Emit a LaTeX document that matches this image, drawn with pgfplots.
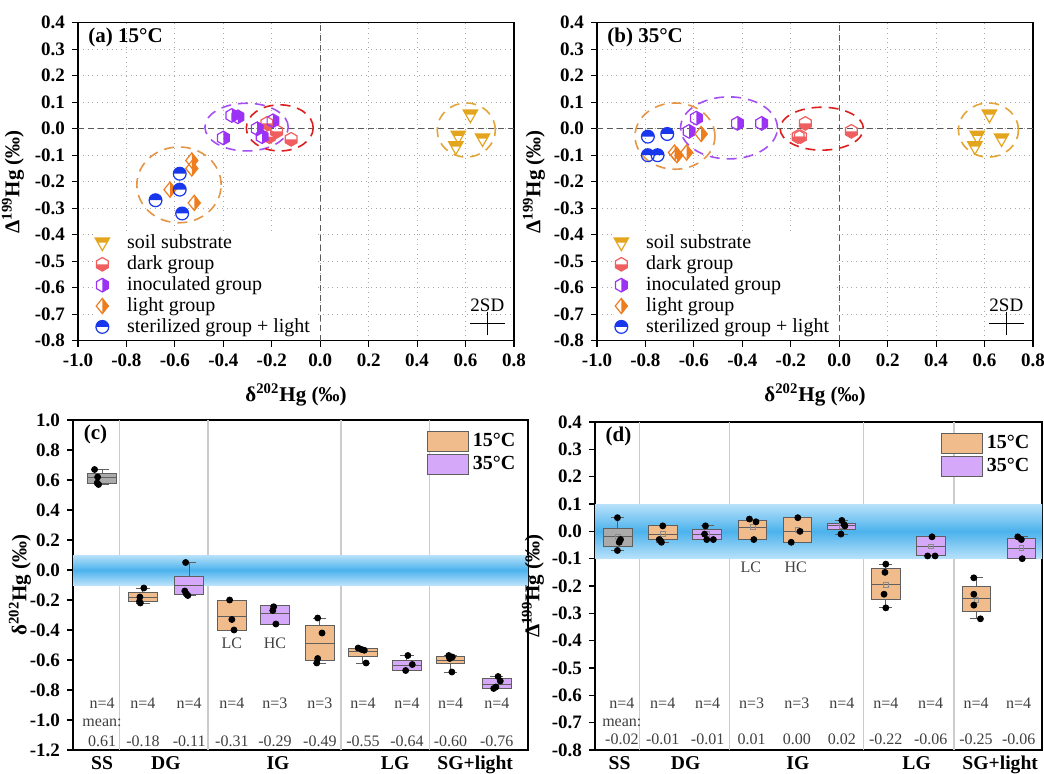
\documentclass[border=0pt]{standalone}
\usepackage{fontspec}
\setmainfont{Liberation Serif}
\usepackage{pgfplots}
\pgfplotsset{compat=1.18}
\usepgfplotslibrary{statistics}

\definecolor{ssc}{RGB}{228,165,30}
\definecolor{dgc}{RGB}{240,95,95}
\definecolor{igc}{RGB}{155,50,245}
\definecolor{lgc}{RGB}{238,125,30}
\definecolor{sgc}{RGB}{25,55,235}
\definecolor{eorange}{RGB}{228,150,70}
\definecolor{egold}{RGB}{226,165,55}
\definecolor{epurple}{RGB}{165,80,240}
\definecolor{ered}{RGB}{220,30,30}
\definecolor{boxor}{RGB}{241,188,140}
\definecolor{boxpu}{RGB}{214,168,250}
\definecolor{boxgr}{RGB}{170,170,170}
\definecolor{boxedge}{RGB}{95,95,95}
\definecolor{bandedge}{RGB}{185,226,250}
\definecolor{bandmid}{RGB}{75,178,236}

% ---- custom half-filled marks ----
\pgfdeclareplotmark{ssm}{%
  \pgfpathmoveto{\pgfpoint{-\pgfplotmarksize}{0.75\pgfplotmarksize}}%
  \pgfpathlineto{\pgfpoint{\pgfplotmarksize}{0.75\pgfplotmarksize}}%
  \pgfpathlineto{\pgfpoint{0.629\pgfplotmarksize}{0.1\pgfplotmarksize}}%
  \pgfpathlineto{\pgfpoint{-0.629\pgfplotmarksize}{0.1\pgfplotmarksize}}%
  \pgfpathclose\pgfusepath{fill}%
  \pgfpathmoveto{\pgfpoint{-\pgfplotmarksize}{0.75\pgfplotmarksize}}%
  \pgfpathlineto{\pgfpoint{\pgfplotmarksize}{0.75\pgfplotmarksize}}%
  \pgfpathlineto{\pgfpoint{0pt}{-\pgfplotmarksize}}%
  \pgfpathclose\pgfusepath{stroke}%
}
\newcommand{\hexpath}{%
  \pgfpathmoveto{\pgfpoint{0pt}{\pgfplotmarksize}}%
  \pgfpathlineto{\pgfpoint{0.866\pgfplotmarksize}{0.5\pgfplotmarksize}}%
  \pgfpathlineto{\pgfpoint{0.866\pgfplotmarksize}{-0.5\pgfplotmarksize}}%
  \pgfpathlineto{\pgfpoint{0pt}{-\pgfplotmarksize}}%
  \pgfpathlineto{\pgfpoint{-0.866\pgfplotmarksize}{-0.5\pgfplotmarksize}}%
  \pgfpathlineto{\pgfpoint{-0.866\pgfplotmarksize}{0.5\pgfplotmarksize}}%
  \pgfpathclose}
\pgfdeclareplotmark{dgm}{%
  \pgfpathmoveto{\pgfpoint{-0.866\pgfplotmarksize}{0pt}}%
  \pgfpathlineto{\pgfpoint{-0.866\pgfplotmarksize}{-0.5\pgfplotmarksize}}%
  \pgfpathlineto{\pgfpoint{0pt}{-\pgfplotmarksize}}%
  \pgfpathlineto{\pgfpoint{0.866\pgfplotmarksize}{-0.5\pgfplotmarksize}}%
  \pgfpathlineto{\pgfpoint{0.866\pgfplotmarksize}{0pt}}%
  \pgfpathclose\pgfusepath{fill}%
  \hexpath\pgfusepath{stroke}%
}
\pgfdeclareplotmark{igm}{%
  \pgfpathmoveto{\pgfpoint{0pt}{\pgfplotmarksize}}%
  \pgfpathlineto{\pgfpoint{0.866\pgfplotmarksize}{0.5\pgfplotmarksize}}%
  \pgfpathlineto{\pgfpoint{0.866\pgfplotmarksize}{-0.5\pgfplotmarksize}}%
  \pgfpathlineto{\pgfpoint{0pt}{-\pgfplotmarksize}}%
  \pgfpathclose\pgfusepath{fill}%
  \hexpath\pgfusepath{stroke}%
}
\pgfdeclareplotmark{lgm}{%
  \pgfpathmoveto{\pgfpoint{0pt}{\pgfplotmarksize}}%
  \pgfpathlineto{\pgfpoint{0.8\pgfplotmarksize}{0pt}}%
  \pgfpathlineto{\pgfpoint{0pt}{-\pgfplotmarksize}}%
  \pgfpathclose\pgfusepath{fill}%
  \pgfpathmoveto{\pgfpoint{0pt}{\pgfplotmarksize}}%
  \pgfpathlineto{\pgfpoint{0.8\pgfplotmarksize}{0pt}}%
  \pgfpathlineto{\pgfpoint{0pt}{-\pgfplotmarksize}}%
  \pgfpathlineto{\pgfpoint{-0.8\pgfplotmarksize}{0pt}}%
  \pgfpathclose\pgfusepath{stroke}%
}
\pgfdeclareplotmark{sgm}{%
  \pgfpathmoveto{\pgfpoint{\pgfplotmarksize}{0pt}}%
  \pgfpatharc{0}{180}{\pgfplotmarksize}%
  \pgfpathclose\pgfusepath{fill}%
  \pgfpathcircle{\pgfpointorigin}{\pgfplotmarksize}\pgfusepath{stroke}%
}

\newcommand{\bx}[7]{\addplot[draw=boxedge, fill=#2, line width=0.5pt, forget plot,
  boxplot/draw direction=y,
  boxplot prepared={draw position=#1, lower whisker=#3, lower quartile=#4, median=#5,
  upper quartile=#6, upper whisker=#7, box extend=0.65, whisker extend=0.3}] coordinates {};}
\newcommand{\tl}[3]{\node[font=\fontsize{8}{9}\selectfont, text=black!75] at (axis cs:#1,#2) {#3};}

\pgfplotsset{
  /pgf/number format/assume math mode=true,
  base/.style={scale only axis, anchor=south west,
    axis line style={line width=0.7pt}, tick align=outside, major tick length=3pt,
    tick pos=left, tick style={line width=0.6pt, black},
    tick label style={font=\bfseries\fontsize{9.5}{11}\selectfont},
    label style={font=\bfseries\fontsize{10.5}{12}\selectfont},
    yticklabel style={/pgf/number format/.cd, fixed, fixed zerofill, precision=1}},
  scat/.style={base, width=218pt, height=159pt,
    xmin=-1, xmax=0.8, ymin=-0.8, ymax=0.4,
    xtick={-1,-0.8,-0.6,-0.4,-0.2,0,0.2,0.4,0.6,0.8},
    ytick={-0.8,-0.7,-0.6,-0.5,-0.4,-0.3,-0.2,-0.1,0,0.1,0.2,0.3,0.4},
    xticklabel style={/pgf/number format/.cd, fixed, fixed zerofill, precision=1},
    grid=major, major grid style={dotted, black!35, line width=0.5pt},
    xlabel={δ\textsuperscript{202}Hg (‰)}, ylabel={Δ\textsuperscript{199}Hg (‰)},
    xlabel style={yshift=-1.5pt}, ylabel style={yshift=-1.5pt},
    legend style={at={(0.037,0.003)}, anchor=south west, draw=none, fill=white,
      font=\fontsize{10}{10}\selectfont, inner sep=0pt, row sep=-2pt,
      /tikz/every odd column/.append style={column sep=6.5pt}},
    legend cell align=left},
  bxp/.style={base, xmin=0.34, xmax=10.68,
    xtick={1,2.45,5,7.66,9.48}, xticklabels={SS,DG,IG,LG,SG+light},
    xticklabel style={font=\bfseries\fontsize{9.8}{11}\selectfont, yshift=3.5pt},
    xtick style={draw=none},
    legend style={at={(0.995,0.985)}, anchor=north east, draw=none, fill=none,
      font=\bfseries\fontsize{10}{12}\selectfont, row sep=-0.5pt},
    legend cell align=left},
}
\newcommand{\zerolines}{%
  \draw[black!65, line width=0.6pt, dash pattern=on 3pt off 2pt] (axis cs:0,-0.8) -- (axis cs:0,0.4);
  \draw[black!65, line width=0.6pt, dash pattern=on 3pt off 2pt] (axis cs:-1,0) -- (axis cs:0.8,0);}
\newcommand{\elli}[5]{\draw[#1, line width=0.8pt, dash pattern=on 5pt off 3.5pt] (axis cs:#2,#3) ellipse [x radius=#4, y radius=#5];}
\newcommand{\sdcross}{%
  \addplot[draw=none, mark=none, forget plot, error bars/.cd, x dir=both, y dir=both,
    x explicit, y explicit, error bar style={draw=black, line width=0.6pt, solid},
    error mark options={draw=black, mark size=2pt, line width=0.6pt}]
    coordinates {(0.69,-0.735) +- (0.055,0.03)};
  \node[font=\fontsize{9.5}{10}\selectfont] at (axis cs:0.69,-0.665) {2SD};}
\newcommand{\ptitle}[1]{\node[anchor=west, inner sep=0pt, font=\bfseries\fontsize{10.5}{12}\selectfont] at (rel axis cs:0.023,0.955) {#1};}

\begin{document}
\begin{tikzpicture}
\useasboundingbox (0,0) rectangle (522pt,386.5pt);

% ================= (a) =================
\begin{axis}[scat, at={(39pt,216.15pt)}]
\zerolines
\elli{egold}{0.603}{-0.005}{0.12}{0.102}
\elli{epurple}{-0.304}{0.006}{0.172}{0.09}
\elli{ered}{-0.167}{0.003}{0.138}{0.087}
\elli{eorange}{-0.583}{-0.212}{0.174}{0.143}
\addplot[only marks, mark=ssm, color=ssc, mark size=3.6pt, mark options={line width=0.6pt}]
  coordinates {(0.62,0.05) (0.57,-0.03) (0.56,-0.07) (0.67,-0.04)};
\addlegendentry{soil substrate}
\addplot[only marks, mark=dgm, color=dgc, mark size=3.4pt, mark options={line width=0.6pt}]
  coordinates {(-0.22,0.02) (-0.18,-0.01) (-0.21,-0.03) (-0.12,-0.04)};
\addlegendentry{dark group}
\addplot[only marks, mark=igm, color=igc, mark size=3.4pt, mark options={line width=0.6pt}]
  coordinates {(-0.365,0.05) (-0.34,0.045) (-0.40,-0.035) (-0.26,0.0) (-0.24,-0.03) (-0.195,0.03)};
\addlegendentry{inoculated group}
\addplot[only marks, mark=lgm, color=lgc, mark size=3.8pt, mark options={line width=0.6pt}]
  coordinates {(-0.53,-0.12) (-0.53,-0.15) (-0.62,-0.23) (-0.52,-0.28)};
\addlegendentry{light group}
\addplot[only marks, mark=sgm, color=sgc, mark size=3.2pt, mark options={line width=0.6pt}]
  coordinates {(-0.58,-0.17) (-0.58,-0.23) (-0.68,-0.27) (-0.57,-0.32)};
\addlegendentry{sterilized group + light}
\sdcross
\ptitle{(a) 15°C}
\end{axis}

% ================= (b) =================
\begin{axis}[scat, at={(298.5pt,216.15pt)}, ylabel style={yshift=-1pt}]
\zerolines
\elli{egold}{0.616}{-0.005}{0.124}{0.102}
\elli{epurple}{-0.455}{0.003}{0.2}{0.117}
\elli{ered}{-0.072}{0.0}{0.172}{0.081}
\elli{eorange}{-0.678}{-0.028}{0.165}{0.125}
\addplot[only marks, mark=ssm, color=ssc, mark size=3.6pt, mark options={line width=0.6pt}]
  coordinates {(0.62,0.05) (0.57,-0.03) (0.56,-0.07) (0.67,-0.04)};
\addlegendentry{soil substrate}
\addplot[only marks, mark=dgm, color=dgc, mark size=3.4pt, mark options={line width=0.6pt}]
  coordinates {(-0.14,0.02) (-0.17,-0.03) (-0.16,-0.03) (0.05,-0.01)};
\addlegendentry{dark group}
\addplot[only marks, mark=igm, color=igc, mark size=3.4pt, mark options={line width=0.6pt}]
  coordinates {(-0.59,0.04) (-0.62,-0.01) (-0.42,0.02) (-0.32,0.02)};
\addlegendentry{inoculated group}
\addplot[only marks, mark=lgm, color=lgc, mark size=3.8pt, mark options={line width=0.6pt}]
  coordinates {(-0.57,-0.02) (-0.63,-0.09) (-0.67,-0.10) (-0.68,-0.09)};
\addlegendentry{light group}
\addplot[only marks, mark=sgm, color=sgc, mark size=3.2pt, mark options={line width=0.6pt}]
  coordinates {(-0.79,-0.03) (-0.71,-0.02) (-0.79,-0.10) (-0.75,-0.10)};
\addlegendentry{sterilized group + light}
\sdcross
\ptitle{(b) 35°C}
\end{axis}

% ================= (c) =================
\begin{axis}[bxp, at={(36.5pt,11.5pt)}, width=227.5pt, height=165pt,
  ymin=-1.2, ymax=1.0, ytick={-1.2,-1,-0.8,-0.6,-0.4,-0.2,0,0.2,0.4,0.6,0.8,1.0},
  ylabel={δ\textsuperscript{202}Hg (‰)}, ylabel style={yshift=-7.5pt}]
\addlegendimage{legend image code/.code={\draw[draw=boxedge,fill=boxor,line width=0.6pt] (0pt,-5pt) rectangle (20.5pt,5pt);}}
\addlegendentry{15°C}
\addlegendimage{legend image code/.code={\draw[draw=boxedge,fill=boxpu,line width=0.6pt] (0pt,-5pt) rectangle (20.5pt,5pt);}}
\addlegendentry{35°C}
\foreach \s in {1.39,3.41,6.43,8.45} {\edef\tmp{\noexpand\draw[black!20, line width=0.6pt] (axis cs:\s,-1.2) -- (axis cs:\s,1.0);}\tmp}
\shade[top color=bandedge, bottom color=bandedge, middle color=bandmid] (axis cs:0.34,-0.1) rectangle (axis cs:10.68,0.1);
\bx{1}{boxgr}{0.57}{0.58}{0.62}{0.645}{0.67}
\bx{1.93}{boxor}{-0.22}{-0.21}{-0.18}{-0.15}{-0.12}
\bx{2.98}{boxpu}{-0.17}{-0.165}{-0.10}{-0.045}{0.05}
\bx{3.95}{boxor}{-0.40}{-0.40}{-0.31}{-0.20}{-0.20}
\bx{4.93}{boxpu}{-0.36}{-0.36}{-0.29}{-0.235}{-0.235}
\bx{5.95}{boxor}{-0.62}{-0.605}{-0.49}{-0.37}{-0.32}
\bx{6.93}{boxor}{-0.62}{-0.575}{-0.545}{-0.52}{-0.52}
\bx{7.93}{boxpu}{-0.67}{-0.67}{-0.635}{-0.60}{-0.57}
\bx{8.92}{boxor}{-0.68}{-0.625}{-0.60}{-0.575}{-0.57}
\bx{9.97}{boxpu}{-0.79}{-0.79}{-0.76}{-0.72}{-0.71}
\addplot[only marks, mark=*, mark size=1.5pt, black, forget plot] coordinates {
 (0.83,0.67) (0.9,0.62) (0.89,0.58) (0.92,0.57)
 (1.95,-0.12) (1.86,-0.18) (1.85,-0.21) (1.87,-0.22)
 (2.9,0.05) (2.88,-0.14) (2.92,-0.16) (2.95,-0.17)
 (3.9,-0.20) (3.95,-0.33) (4.0,-0.40)
 (4.9,-0.245) (4.88,-0.27) (4.95,-0.36)
 (5.9,-0.32) (6.0,-0.42) (5.9,-0.59) (5.88,-0.62)
 (6.82,-0.52) (6.9,-0.53) (6.96,-0.535) (7.0,-0.62)
 (7.95,-0.57) (8.05,-0.63) (7.9,-0.67)
 (8.88,-0.57) (8.96,-0.58) (8.9,-0.59) (8.95,-0.68)
 (10.0,-0.71) (10.05,-0.74) (9.9,-0.79) (9.95,-0.78)};
\tl{1}{-0.887}{n=4}\tl{1.93}{-0.887}{n=4}\tl{2.98}{-0.887}{n=4}\tl{3.95}{-0.887}{n=4}
\tl{4.93}{-0.887}{n=3}\tl{5.95}{-0.887}{n=3}\tl{6.93}{-0.887}{n=4}\tl{7.93}{-0.887}{n=4}
\tl{8.92}{-0.887}{n=4}\tl{9.97}{-0.887}{n=4}
\tl{1}{-1.02}{mean:}
\tl{1}{-1.14}{0.61}\tl{1.93}{-1.14}{-0.18}\tl{2.98}{-1.14}{-0.11}\tl{3.95}{-1.14}{-0.31}
\tl{4.93}{-1.14}{-0.29}\tl{5.95}{-1.14}{-0.49}\tl{6.93}{-1.14}{-0.55}\tl{7.93}{-1.14}{-0.64}
\tl{8.92}{-1.14}{-0.60}\tl{9.97}{-1.14}{-0.76}
\tl{3.95}{-0.487}{LC}\tl{4.93}{-0.487}{HC}
\ptitle{(c)}
\end{axis}

% ================= (d) =================
\begin{axis}[bxp, at={(297.5pt,11.5pt)}, width=223.5pt, height=164pt, xmin=0.39, xmax=10.55,
  xtick={0.95,2.45,5,7.7,9.6},
  ymin=-0.8, ymax=0.4, ytick={-0.8,-0.7,-0.6,-0.5,-0.4,-0.3,-0.2,-0.1,0,0.1,0.2,0.3,0.4},
  ylabel={Δ\textsuperscript{199}Hg (‰)}, ylabel style={yshift=-3pt}]
\addlegendimage{legend image code/.code={\draw[draw=boxedge,fill=boxor,line width=0.6pt] (0pt,-5pt) rectangle (20.5pt,5pt);}}
\addlegendentry{15°C}
\addlegendimage{legend image code/.code={\draw[draw=boxedge,fill=boxpu,line width=0.6pt] (0pt,-5pt) rectangle (20.5pt,5pt);}}
\addlegendentry{35°C}
\foreach \s in {1.41,3.45,6.5,8.55} {\edef\tmp{\noexpand\draw[black!20, line width=0.6pt] (axis cs:\s,-0.8) -- (axis cs:\s,0.4);}\tmp}
\shade[top color=bandedge, bottom color=bandedge, middle color=bandmid] (axis cs:0.39,-0.1) rectangle (axis cs:10.55,0.1);
\bx{0.91}{boxgr}{-0.07}{-0.055}{-0.02}{0.01}{0.05}
\bx{1.93}{boxor}{-0.04}{-0.03}{-0.01}{0.02}{0.02}
\bx{2.94}{boxpu}{-0.03}{-0.03}{-0.012}{0.005}{0.02}
\bx{3.97}{boxor}{-0.03}{-0.03}{0.015}{0.04}{0.04}
\bx{4.99}{boxor}{-0.04}{-0.04}{0.0}{0.05}{0.05}
\bx{5.99}{boxpu}{-0.01}{0.005}{0.02}{0.03}{0.04}
\bx{7.0}{boxor}{-0.28}{-0.25}{-0.195}{-0.135}{-0.12}
\bx{8.03}{boxpu}{-0.09}{-0.09}{-0.055}{-0.02}{-0.02}
\bx{9.06}{boxor}{-0.32}{-0.295}{-0.245}{-0.20}{-0.17}
\bx{10.08}{boxpu}{-0.10}{-0.10}{-0.062}{-0.025}{-0.02}
\addplot[only marks, mark=square, mark size=1.2pt, draw=black!45, forget plot] coordinates {
 (0.91,-0.02) (1.93,-0.01) (2.94,-0.01) (3.97,0.015) (4.99,0.005) (5.99,0.02)
 (7.0,-0.195) (8.03,-0.055) (9.06,-0.25) (10.08,-0.06)};
\addplot[only marks, mark=*, mark size=1.5pt, black, forget plot] coordinates {
 (0.9,0.05) (0.97,-0.03) (0.94,-0.04) (0.9,-0.07)
 (1.93,0.02) (1.85,-0.03) (1.9,-0.04) (1.88,-0.035)
 (2.9,0.02) (2.88,-0.01) (2.93,-0.03) (3.08,-0.03)
 (3.9,0.045) (4.05,0.035) (4.0,-0.03)
 (5.0,0.05) (5.05,0.0) (4.85,-0.04)
 (6.0,0.04) (6.05,0.025) (6.07,0.02) (5.98,-0.01)
 (7.0,-0.12) (6.98,-0.15) (6.96,-0.23) (7.0,-0.28)
 (8.05,-0.02) (7.95,-0.09) (8.12,-0.09)
 (9.0,-0.17) (9.0,-0.23) (9.0,-0.27) (9.15,-0.32)
 (10.0,-0.02) (10.08,-0.03) (10.1,-0.10)};
\tl{1}{-0.63}{n=4}\tl{1.93}{-0.63}{n=4}\tl{2.95}{-0.63}{n=4}\tl{3.95}{-0.63}{n=3}
\tl{4.98}{-0.63}{n=3}\tl{6.0}{-0.63}{n=4}\tl{7.0}{-0.63}{n=4}\tl{8.02}{-0.63}{n=4}
\tl{9.05}{-0.63}{n=4}\tl{10.02}{-0.63}{n=4}
\tl{1}{-0.70}{mean:}
\tl{1}{-0.76}{-0.02}\tl{1.93}{-0.76}{-0.01}\tl{2.95}{-0.76}{-0.01}\tl{3.95}{-0.76}{0.01}
\tl{4.98}{-0.76}{0.00}\tl{6.0}{-0.76}{0.02}\tl{7.0}{-0.76}{-0.22}\tl{8.02}{-0.76}{-0.06}
\tl{9.05}{-0.76}{-0.25}\tl{10.02}{-0.76}{-0.06}
\tl{3.93}{-0.132}{LC}\tl{4.95}{-0.132}{HC}
\ptitle{(d)}
\end{axis}
\end{tikzpicture}
\end{document}
